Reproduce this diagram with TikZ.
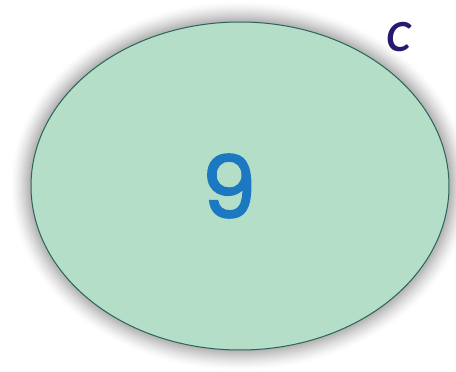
\documentclass[tikz,border=0pt]{standalone}
\usepackage{fontspec}
\newfontfamily\ninefont[FakeBold=2.5]{Poppins}
\newfontfamily\cfont{Lato}
\definecolor{setfill}{RGB}{180,222,200}
\definecolor{setline}{RGB}{40,100,90}
\definecolor{ninecol}{RGB}{28,120,192}
\definecolor{ccol}{RGB}{40,25,110}
\tikzset{
  setshape/.style={fill=setfill, draw=setline, line width=1pt},
}
\begin{document}
\begin{tikzpicture}[x=1pt,y=1pt]
\useasboundingbox (0,0) rectangle (456,372);
\fill[white] (0,0) rectangle (456,372);
% glow
\foreach \i in {20,19,...,1}{
  \pgfmathsetmacro{\g}{32*(1-\i/21)^1.4}
  \fill[black!\g] (240,186) ellipse [x radius=209+\i, y radius=164+\i];
}
\path[setshape] (240,186) ellipse [x radius=209, y radius=164];
\node[text=ninecol, font=\ninefont\fontsize{86}{86}\selectfont, inner sep=0pt] (nine) at (229,186) {9};
\node[text=ccol, font=\cfont\bfseries\itshape\fontsize{40}{40}\selectfont, inner sep=0pt] (c) at (399,335) {C};
\end{tikzpicture}
\end{document}
